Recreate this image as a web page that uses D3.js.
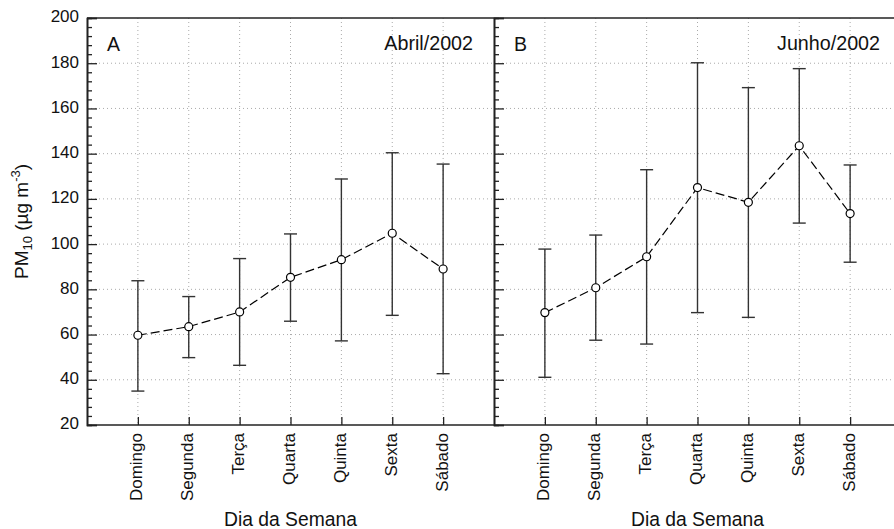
<!DOCTYPE html>
<html>
<head>
<meta charset="utf-8">
<script src="https://cdn.jsdelivr.net/npm/d3@7"></script>
<style>
  body { margin: 0; background: #fff; }
  svg { display: block; font-family: "Liberation Sans", Arial, sans-serif; }
</style>
</head>
<body>
<script>
const svgWidth = 894;
const svgHeight = 529;

// data
const days = ['Domingo', 'Segunda', 'Terça', 'Quarta', 'Quinta', 'Sexta', 'Sábado'];
const aprMean = [59.7, 63.5, 70.0, 85.3, 93.1, 104.8, 89.0];
const aprHigh = [83.8, 76.8, 93.6, 104.5, 128.8, 140.4, 135.4];
const aprLow = [35.0, 49.8, 46.4, 65.9, 57.2, 68.5, 42.7];
const junMean = [69.7, 80.7, 94.4, 125.0, 118.5, 143.5, 113.5];
const junHigh = [97.8, 104.0, 132.9, 180.2, 169.2, 177.6, 135.0];
const junLow = [41.1, 57.5, 55.8, 69.7, 67.6, 109.3, 92.0];
const yTicks = [20, 40, 60, 80, 100, 120, 140, 160, 180, 200];

const plotTop = 18, plotBottom = 425;
const panelW = 407;

const svg = d3.select('body').append('svg')
    .attr('width', svgWidth)
    .attr('height', svgHeight);

const y = d3.scaleLinear().domain([20, 200]).range([plotBottom, plotTop]);

function drawPanel(x0, letter, title, mean, high, low, showLabels) {
    const x = d3.scalePoint().domain(days).range([x0, x0 + panelW]).padding(1);
    const g = svg.append('g');
    const rows = days.map((d, i) => ({day: d, m: mean[i], hi: high[i], lo: low[i]}));

    // grid
    g.selectAll('.hgrid').data(yTicks.slice(1, -1)).enter().append('line')
        .attr('x1', x0).attr('x2', x0 + panelW)
        .attr('y1', d => y(d)).attr('y2', d => y(d))
        .attr('stroke', '#aaa').attr('stroke-width', 1).attr('stroke-dasharray', '1,3');
    g.selectAll('.vgrid').data(days).enter().append('line')
        .attr('x1', d => x(d)).attr('x2', d => x(d))
        .attr('y1', plotTop).attr('y2', plotBottom)
        .attr('stroke', '#aaa').attr('stroke-width', 1).attr('stroke-dasharray', '1,3');

    // y axis, ticks inside
    const yAxis = d3.axisRight(y).tickValues(yTicks).tickSize(10).tickFormat('');
    const ya = g.append('g').attr('transform', `translate(${x0},0)`).call(yAxis);
    const minor = d3.range(20, 201, 4).filter(v => v % 20 !== 0);
    const yMinor = d3.axisRight(y).tickValues(minor).tickSize(5).tickFormat('');
    const ym = g.append('g').attr('transform', `translate(${x0},0)`).call(yMinor);
    [ya, ym].forEach(a => {
        a.select('.domain').attr('stroke', '#222').attr('stroke-width', 1.6);
        a.selectAll('.tick line').attr('stroke', '#222').attr('stroke-width', 1.3);
    });
    if (showLabels) {
        g.selectAll('.ylab').data(yTicks).enter().append('text')
            .attr('x', x0 - 8).attr('y', d => y(d))
            .attr('text-anchor', 'end').attr('dominant-baseline', 'middle')
            .attr('font-size', 17).attr('fill', '#111')
            .text(d => d);
    }

    // x axis, ticks pointing up
    const xAxis = d3.axisTop(x).tickSize(8).tickFormat('');
    const xa = g.append('g').attr('transform', `translate(0,${plotBottom})`).call(xAxis);
    xa.select('.domain').remove();
    xa.selectAll('.tick line').attr('stroke', '#222').attr('stroke-width', 1.3);
    g.append('line').attr('x1', x0).attr('x2', x0 + panelW)
        .attr('y1', plotBottom).attr('y2', plotBottom)
        .attr('stroke', '#222').attr('stroke-width', 1.6);
    g.append('line').attr('x1', x0).attr('x2', x0 + panelW)
        .attr('y1', plotTop).attr('y2', plotTop)
        .attr('stroke', '#222').attr('stroke-width', 1.6);

    g.selectAll('.xlab').data(days).enter().append('text')
        .attr('transform', d => `translate(${x(d)},${plotBottom + 8}) rotate(-90)`)
        .attr('text-anchor', 'end').attr('dominant-baseline', 'middle')
        .attr('font-size', 17).attr('fill', '#111')
        .text(d => d);

    g.append('text')
        .attr('x', x0 + panelW / 2).attr('y', 526)
        .attr('text-anchor', 'middle').attr('font-size', 19.3).attr('fill', '#111')
        .text('Dia da Semana');

    // panel letter and month
    g.append('text').attr('x', x0 + 20).attr('y', 51)
        .attr('font-size', 19.5).attr('fill', '#111').text(letter);
    g.append('text').attr('x', x0 + panelW - 21).attr('y', 50)
        .attr('text-anchor', 'end').attr('font-size', 19.7).attr('fill', '#111').text(title);

    // error bars
    const bars = g.selectAll('.bar').data(rows).enter().append('g');
    bars.append('line')
        .attr('x1', d => x(d.day)).attr('x2', d => x(d.day))
        .attr('y1', d => y(d.lo)).attr('y2', d => y(d.hi))
        .attr('stroke', '#333').attr('stroke-width', 1.4);
    ['hi', 'lo'].forEach(k => {
        bars.append('line')
            .attr('x1', d => x(d.day) - 6.5).attr('x2', d => x(d.day) + 6.5)
            .attr('y1', d => y(d[k])).attr('y2', d => y(d[k]))
            .attr('stroke', '#333').attr('stroke-width', 1.4);
    });

    // dashed mean line
    const line = d3.line().x(d => x(d.day)).y(d => y(d.m));
    g.append('path').datum(rows)
        .attr('d', line)
        .attr('fill', 'none').attr('stroke', '#000').attr('stroke-width', 1.2)
        .attr('stroke-dasharray', '9,4');

    g.selectAll('.pt').data(rows).enter().append('circle')
        .attr('cx', d => x(d.day)).attr('cy', d => y(d.m))
        .attr('r', 4)
        .attr('fill', '#fff').attr('stroke', '#000').attr('stroke-width', 1.2);
}

drawPanel(87, 'A', 'Abril/2002', aprMean, aprHigh, aprLow, true);
drawPanel(494, 'B', 'Junho/2002', junMean, junHigh, junLow, false);

// y axis title with sub/superscript
svg.append('text')
    .attr('transform', `translate(28,${(plotTop + plotBottom) / 2}) rotate(-90)`)
    .attr('text-anchor', 'middle').attr('font-size', 19).attr('fill', '#111')
    .call(t => {
        t.append('tspan').text('PM');
        t.append('tspan').attr('font-size', 13).attr('dy', 4).text('10');
        t.append('tspan').attr('dy', -4).text(' (µg m');
        t.append('tspan').attr('font-size', 13).attr('dy', -8).text('-3');
        t.append('tspan').attr('dy', 8).text(')');
    });
</script>
</body>
</html>
